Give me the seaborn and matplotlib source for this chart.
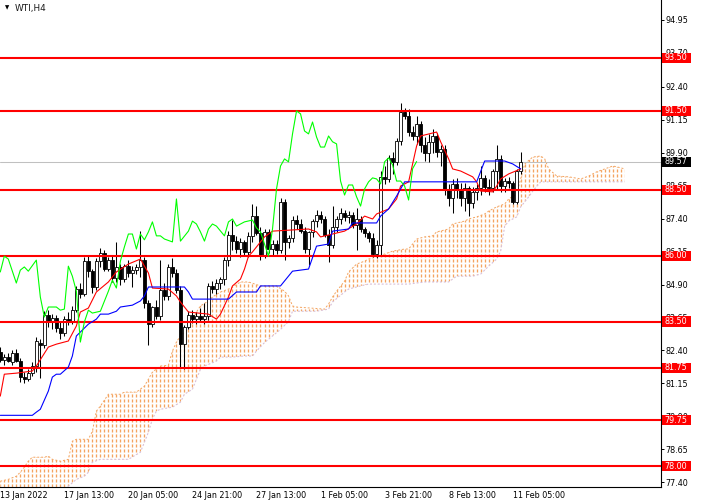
import matplotlib
matplotlib.use("Agg")
import matplotlib.pyplot as plt
from matplotlib.patches import Rectangle, Polygon
import seaborn as sns
import numpy as np

sns.set_style("white")
plt.rcParams["font.family"] = ["DejaVu Sans"]
plt.rcParams["lines.scale_dashes"] = False

symbol = "WTI,H4"

# H4 candles, one per bar, left to right
opens = [82.35, 82.05, 82.15, 81.95, 82.30, 82.00, 81.40, 81.30, 81.55, 81.80,
         82.70, 82.60, 83.75, 83.50, 83.65, 83.25, 83.05, 83.60, 83.50, 83.95,
         84.75, 84.55, 85.80, 85.40, 84.80, 85.80, 86.10, 85.50, 85.85, 85.15,
         85.55, 85.10, 85.60, 85.35, 85.45, 85.55, 85.85, 84.20, 83.40, 84.05,
         83.70, 84.70, 84.45, 85.55, 85.35, 84.70, 82.65, 83.30, 83.75, 83.60,
         83.70, 83.60, 83.70, 84.85, 84.75, 84.95, 85.10, 85.85, 86.80, 86.55,
         86.25, 86.50, 86.15, 86.75, 87.50, 86.85, 86.00, 86.90, 86.25, 86.45,
         86.20, 88.05, 86.50, 86.65, 87.35, 87.20, 86.95, 86.25, 86.90, 87.30,
         87.55, 87.40, 86.80, 86.40, 87.10, 87.40, 87.60, 87.45, 87.55, 87.15,
         87.40, 87.00, 86.85, 86.65, 86.05, 86.40, 89.00, 88.90, 89.70, 89.55,
         90.35, 91.45, 91.30, 90.70, 90.55, 91.00, 90.20, 89.90, 90.30, 90.55,
         89.95, 90.05, 88.50, 88.20, 88.70, 88.50, 88.20, 88.55, 88.00, 88.40,
         88.55, 88.95, 88.60, 88.55, 89.20, 89.65, 88.65, 88.85, 88.75, 88.05,
         89.20]
highs = [82.55, 82.25, 82.30, 82.40, 82.45, 82.10, 81.60, 81.70, 81.95, 82.90,
         82.85, 83.90, 83.95, 83.80, 83.75, 83.50, 83.70, 83.85, 84.10, 84.85,
         84.95, 85.95, 86.00, 85.50, 85.90, 86.30, 86.20, 85.95, 86.00, 86.50,
         85.70, 85.70, 85.85, 85.60, 85.70, 86.95, 85.95, 84.30, 84.10, 84.30,
         85.85, 84.95, 85.70, 85.90, 85.50, 84.85, 83.35, 83.90, 83.95, 83.85,
         84.00, 84.20, 84.95, 85.05, 85.10, 85.20, 85.95, 86.95, 87.35, 86.75,
         86.65, 86.60, 86.90, 87.95, 87.90, 87.10, 87.00, 87.00, 86.60, 86.60,
         88.20, 88.15, 86.80, 87.50, 87.55, 87.40, 87.10, 86.95, 87.40, 87.75,
         87.70, 87.50, 87.00, 87.90, 87.50, 87.80, 87.75, 87.70, 87.65, 87.80,
         87.50, 87.10, 86.95, 86.85, 86.60, 89.20, 89.40, 89.80, 89.95, 90.45,
         91.80, 91.60, 91.55, 90.90, 91.30, 91.10, 90.50, 90.60, 90.80, 90.65,
         90.20, 90.20, 88.70, 88.90, 88.95, 88.75, 88.75, 88.65, 88.60, 88.70,
         89.40, 89.05, 88.90, 89.30, 90.20, 89.80, 88.95, 89.00, 88.85, 89.30,
         89.95]
lows = [81.95, 81.85, 81.95, 81.85, 81.95, 81.20, 81.15, 81.25, 81.45, 81.60,
        81.35, 82.50, 83.30, 83.20, 83.10, 82.85, 82.95, 83.35, 83.40, 83.85,
        84.40, 84.45, 85.20, 84.60, 84.70, 85.55, 85.40, 85.40, 85.00, 85.00,
        84.90, 85.00, 85.20, 84.80, 85.30, 85.20, 84.00, 82.60, 83.30, 83.60,
        83.55, 84.30, 84.30, 85.20, 84.60, 81.75, 81.70, 83.20, 83.45, 83.40,
        83.50, 83.40, 83.55, 84.60, 84.55, 84.75, 84.90, 85.60, 86.20, 86.10,
        85.95, 86.00, 85.95, 86.50, 86.80, 85.85, 85.90, 86.10, 86.00, 86.05,
        86.10, 85.85, 86.30, 86.50, 87.00, 86.85, 86.10, 85.65, 86.70, 87.10,
        87.25, 86.70, 85.75, 86.30, 86.90, 87.20, 87.30, 87.25, 87.05, 86.20,
        86.90, 86.70, 86.50, 85.95, 85.90, 86.00, 88.70, 88.80, 89.10, 89.45,
        90.20, 91.20, 90.55, 90.40, 90.25, 89.95, 89.60, 89.55, 89.90, 89.75,
        89.40, 88.30, 87.90, 87.60, 88.20, 87.90, 87.70, 87.50, 87.80, 88.10,
        88.30, 88.40, 88.30, 88.40, 88.50, 88.40, 88.40, 88.55, 87.95, 87.95,
        89.10]
closes = [82.05, 82.15, 82.00, 82.30, 82.00, 81.40, 81.30, 81.55, 81.80, 82.75,
          82.60, 83.75, 83.50, 83.65, 83.25, 83.05, 83.60, 83.50, 83.95, 84.75,
          84.55, 85.80, 85.40, 84.80, 85.80, 86.10, 85.50, 85.85, 85.15, 85.55,
          85.10, 85.60, 85.35, 85.45, 85.55, 85.85, 84.20, 83.40, 84.05, 83.70,
          84.70, 84.45, 85.55, 85.35, 84.70, 82.65, 83.30, 83.75, 83.60, 83.70,
          83.60, 83.70, 84.85, 84.75, 84.95, 85.10, 85.85, 86.80, 86.55, 86.25,
          86.50, 86.15, 86.75, 87.50, 86.85, 86.00, 86.90, 86.25, 86.45, 86.20,
          88.05, 86.50, 86.65, 87.35, 87.20, 86.95, 86.25, 86.90, 87.30, 87.55,
          87.40, 86.80, 86.40, 87.10, 87.40, 87.60, 87.45, 87.55, 87.15, 87.40,
          87.00, 86.85, 86.65, 86.05, 86.40, 89.00, 88.90, 89.70, 89.55, 90.35,
          91.45, 91.30, 90.70, 90.55, 91.00, 90.20, 89.90, 90.30, 90.55, 89.95,
          90.05, 88.50, 88.20, 88.70, 88.50, 88.20, 88.55, 88.00, 88.40, 88.55,
          88.95, 88.60, 88.55, 89.20, 89.65, 88.65, 88.85, 88.75, 88.05, 89.20,
          89.57]

# Ichimoku lines as (bar, price) points
tenkan = [(0, 80.67), (1, 81.50), (4, 81.54), (8, 81.62), (9, 81.81), (12, 82.53),
          (14, 82.64), (17, 82.76), (19, 83.33), (20, 83.86), (22, 84.01), (24, 84.62),
          (27, 85.00), (29, 85.38), (32, 85.68), (35, 85.87), (37, 85.34), (38, 84.77),
          (42, 84.73), (44, 84.47), (45, 84.24), (47, 83.86), (52, 83.78), (54, 83.59),
          (55, 83.78), (57, 84.43), (58, 84.85), (60, 85.11), (61, 85.49), (62, 85.98),
          (63, 86.14), (65, 86.52), (66, 86.71), (68, 86.93), (77, 87.01), (79, 86.90),
          (80, 86.71), (83, 86.82), (86, 86.93), (89, 87.20), (91, 87.50), (93, 87.39),
          (94, 87.58), (97, 87.77), (99, 88.15), (100, 88.64), (102, 88.80), (104, 90.16),
          (105, 90.54), (109, 90.69), (110, 90.32), (112, 89.67), (113, 89.29), (115, 89.21),
          (118, 88.99), (119, 88.80), (120, 88.45), (123, 88.42), (124, 88.64), (125, 88.91),
          (127, 89.10), (130, 89.29)]
kijun = [(0, 79.94), (8, 79.94), (9, 80.06), (10, 80.17), (12, 80.86), (13, 81.39),
         (14, 81.50), (15, 81.50), (17, 81.77), (18, 82.19), (19, 82.95), (20, 83.10),
         (22, 83.40), (24, 83.59), (25, 83.78), (27, 83.78), (29, 83.89), (30, 84.05),
         (33, 84.12), (35, 84.28), (36, 84.47), (37, 84.81), (46, 84.81), (47, 84.62),
         (48, 84.35), (57, 84.35), (59, 84.62), (64, 84.62), (65, 84.85), (70, 84.85),
         (73, 85.41), (77, 85.49), (79, 86.36), (82, 86.44), (83, 86.93), (87, 87.01),
         (88, 87.24), (94, 87.24), (95, 87.50), (97, 87.77), (99, 88.26), (101, 88.80),
         (119, 88.80), (121, 89.59), (126, 89.59), (128, 89.48), (130, 89.29)]
chikou = [(0, 85.38), (1, 85.98), (2, 85.87), (4, 84.96), (5, 85.45), (6, 85.57),
          (7, 85.41), (9, 85.83), (10, 84.43), (11, 83.67), (12, 84.05), (14, 84.05),
          (15, 83.93), (16, 83.97), (17, 85.60), (18, 85.22), (19, 84.65), (20, 82.72),
          (21, 83.48), (22, 83.93), (23, 83.82), (25, 83.89), (27, 84.65), (28, 85.07),
          (29, 84.77), (30, 85.79), (31, 86.33), (32, 86.82), (33, 86.82), (34, 86.25),
          (35, 86.82), (36, 86.60), (37, 86.90), (38, 87.28), (39, 86.75), (40, 86.75),
          (41, 86.63), (43, 86.52), (44, 88.15), (45, 86.55), (47, 86.93), (48, 87.31),
          (49, 87.20), (50, 86.90), (51, 86.55), (52, 87.01), (53, 87.20), (54, 87.12),
          (56, 86.75), (57, 87.28), (58, 87.39), (59, 87.12), (61, 87.28), (63, 87.35),
          (64, 87.05), (65, 86.90), (66, 86.44), (67, 85.98), (68, 87.01), (69, 88.53),
          (70, 89.40), (71, 89.67), (72, 89.56), (73, 90.62), (74, 91.49), (75, 91.38),
          (76, 90.73), (77, 90.62), (78, 91.07), (79, 90.50), (80, 90.12), (81, 90.12),
          (82, 90.54), (83, 90.32), (84, 90.24), (85, 88.83), (86, 88.30), (87, 88.68),
          (88, 88.68), (89, 88.23), (90, 87.88), (91, 88.53), (92, 88.80), (93, 88.95),
          (94, 88.91), (95, 88.72), (96, 89.56), (97, 89.71), (98, 89.44), (99, 88.83),
          (100, 88.83), (101, 88.64), (102, 88.11), (103, 89.30), (104, 89.57)]
span_a = [(0, 77.44), (2, 77.51), (4, 77.63), (5, 77.78), (6, 77.97), (7, 78.20),
          (8, 78.35), (11, 78.35), (12, 78.39), (13, 78.27), (15, 78.20), (17, 78.27),
          (18, 78.96), (19, 79.03), (22, 79.03), (23, 79.33), (24, 80.10), (25, 80.29),
          (27, 80.74), (30, 80.74), (31, 80.82), (34, 80.82), (36, 81.05), (37, 81.31),
          (38, 81.58), (40, 81.81), (42, 81.84), (43, 82.38), (44, 82.72), (45, 82.95),
          (47, 83.21), (48, 83.52), (49, 83.86), (50, 84.09), (52, 84.28), (53, 84.43),
          (55, 84.62), (57, 84.73), (58, 84.81), (60, 85.00), (62, 85.00), (65, 84.85),
          (69, 84.85), (71, 84.65), (72, 84.47), (73, 84.09), (74, 84.05), (81, 83.97),
          (82, 84.16), (83, 84.43), (84, 84.65), (86, 85.03), (87, 85.38), (89, 85.68),
          (91, 85.79), (92, 85.87), (94, 85.95), (96, 86.06), (98, 86.17), (101, 86.25),
          (102, 86.25), (104, 86.63), (106, 86.71), (108, 86.75), (109, 86.90), (112, 87.01),
          (113, 87.20), (116, 87.31), (117, 87.39), (119, 87.47), (121, 87.58), (122, 87.69),
          (124, 87.85), (126, 87.96), (127, 88.15), (129, 88.34), (130, 88.91), (131, 89.48),
          (133, 89.74), (135, 89.78), (136, 89.67), (137, 89.29), (139, 89.02), (142, 88.99),
          (145, 88.91), (147, 89.02), (149, 89.18), (151, 89.29), (153, 89.40), (154, 89.37),
          (156, 89.29)]
span_b = [(0, 76.80), (15, 76.80), (17, 77.25), (19, 77.51), (21, 77.63), (22, 77.78),
          (23, 78.16), (25, 78.27), (32, 78.27), (35, 78.54), (37, 79.30), (38, 79.80),
          (39, 80.10), (40, 80.17), (43, 80.25), (45, 80.44), (46, 80.74), (48, 80.93),
          (49, 81.31), (50, 81.69), (51, 81.81), (54, 82.00), (55, 82.15), (58, 82.15),
          (61, 82.19), (63, 82.19), (64, 82.38), (66, 82.70), (70, 83.20), (72, 83.50),
          (73, 83.89), (79, 83.89), (82, 83.97), (83, 84.24), (86, 84.62), (87, 84.73),
          (90, 84.85), (92, 84.92), (102, 84.92), (106, 85.00), (112, 85.00), (114, 85.22),
          (118, 85.22), (120, 85.30), (122, 85.60), (124, 85.87), (125, 86.17), (126, 87.12),
          (127, 87.31), (129, 87.47), (130, 87.85), (132, 88.23), (133, 88.45), (135, 88.80),
          (156, 88.80)]

levels = [93.50, 91.50, 88.50, 86.00, 83.50, 81.75, 79.75, 78.00]
last_price = 89.57

price_ticks = [94.95, 93.70, 92.40, 91.15, 89.90, 88.65, 87.40, 86.15,
               84.90, 83.65, 82.40, 81.15, 79.90, 78.65, 77.40]
time_tick_bars = [0, 16, 32, 48, 64, 80, 96, 112, 128]
time_tick_labels = ["13 Jan 2022", "17 Jan 13:00", "20 Jan 05:00", "24 Jan 21:00",
                    "27 Jan 13:00", "1 Feb 05:00", "3 Feb 21:00", "8 Feb 13:00",
                    "11 Feb 05:00"]

W, H = 701, 500
fig = plt.figure(figsize=(W / 100, H / 100), dpi=100)
ax = fig.add_axes([0, 13 / H, 660.5 / W, 487 / H])
ax.set_xlim(-0.075, 164.925)
ax.set_ylim(77.22, 95.70)

# cloud: dashed verticals on every bar, clipped to the area between the spans
a_x, a_y = zip(*span_a)
b_x, b_y = zip(*span_b)
cloud = Polygon(list(span_a) + list(span_b[::-1]), closed=True,
                facecolor="none", edgecolor="none", transform=ax.transData)
ax.add_patch(cloud)
hatch = ax.vlines(np.arange(0, 157), 77.22, 95.70, colors="#F4A460",
                  linewidth=0.95, linestyles=[(0, (2.2, 1.4))], zorder=1)
hatch.set_clip_path(cloud)
sns.lineplot(x=list(a_x), y=list(a_y), ax=ax, color="#F4A460", linewidth=0.7,
             linestyle=(0, (1.4, 1.4)), estimator=None, sort=False, zorder=1.2)
sns.lineplot(x=list(b_x), y=list(b_y), ax=ax, color="#D8BFD8", linewidth=0.8,
             linestyle=(0, (1.4, 1.4)), estimator=None, sort=False, zorder=1.2)

# current price line
ax.axhline(last_price, color="#C0C0C0", linewidth=0.75, zorder=1.5)

# candles
bars = np.arange(len(opens))
o = np.array(opens)
c = np.array(closes)
body_colors = ["white" if cc >= oo else "black" for oo, cc in zip(o, c)]
ax.vlines(bars, lows, highs, color="black", linewidth=0.75, zorder=2.5)
ax.bar(bars, c - o, bottom=o, width=0.6, color=body_colors,
       edgecolor="black", linewidth=0.6, zorder=2.6)

# support / resistance levels
for lv in levels:
    ax.axhline(lv, color="#FF0000", linewidth=1.5, zorder=3)

# indicator lines
for pts, col in [(tenkan, "#FF0000"), (kijun, "#0000FF"), (chikou, "#00FF00")]:
    px, py = zip(*pts)
    sns.lineplot(x=list(px), y=list(py), ax=ax, color=col, linewidth=0.8,
                 estimator=None, sort=False, zorder=4)

# axes styling like the terminal
for side in ["left", "top"]:
    ax.spines[side].set_visible(False)
for side in ["right", "bottom"]:
    ax.spines[side].set_color("black")
    ax.spines[side].set_linewidth(0.8)
ax.yaxis.tick_right()
ax.set_yticks(price_ticks)
ax.set_yticklabels([f"{v:.2f}" for v in price_ticks])
ax.tick_params(axis="y", direction="out", length=2.2, width=0.7, pad=1.5,
               labelsize=5.8, colors="black")
ax.set_xticks(time_tick_bars)
ax.set_xticklabels(time_tick_labels)
for lbl in ax.get_xticklabels():
    lbl.set_horizontalalignment("left")
ax.tick_params(axis="x", direction="out", length=2.2, width=0.7, pad=1.0,
               labelsize=5.8, colors="black")
ax.set_xlabel("")
ax.set_ylabel("")

# price boxes on the scale
box_h = 0.38
yt = ax.get_yaxis_transform()
for lv, fc in [(v, "#FF0000") for v in levels] + [(last_price, "black")]:
    ax.add_patch(Rectangle((1.002, lv - box_h / 2), 0.044, box_h, transform=yt,
                           facecolor=fc, edgecolor="none", clip_on=False, zorder=6))
    ax.text(1.0065, lv, f"{lv:.2f}", transform=yt, ha="left", va="center",
            fontsize=5.8, color="white", zorder=7, clip_on=False)

# symbol caption
fig.text(5 / W, 1 - 8 / H, "\u25bc", fontsize=4, va="center", ha="left", color="black")
fig.text(15 / W, 1 - 8 / H, symbol, fontsize=6.4, va="center", ha="left", color="#1a1a1a")

fig.savefig("out.png", dpi=100)
